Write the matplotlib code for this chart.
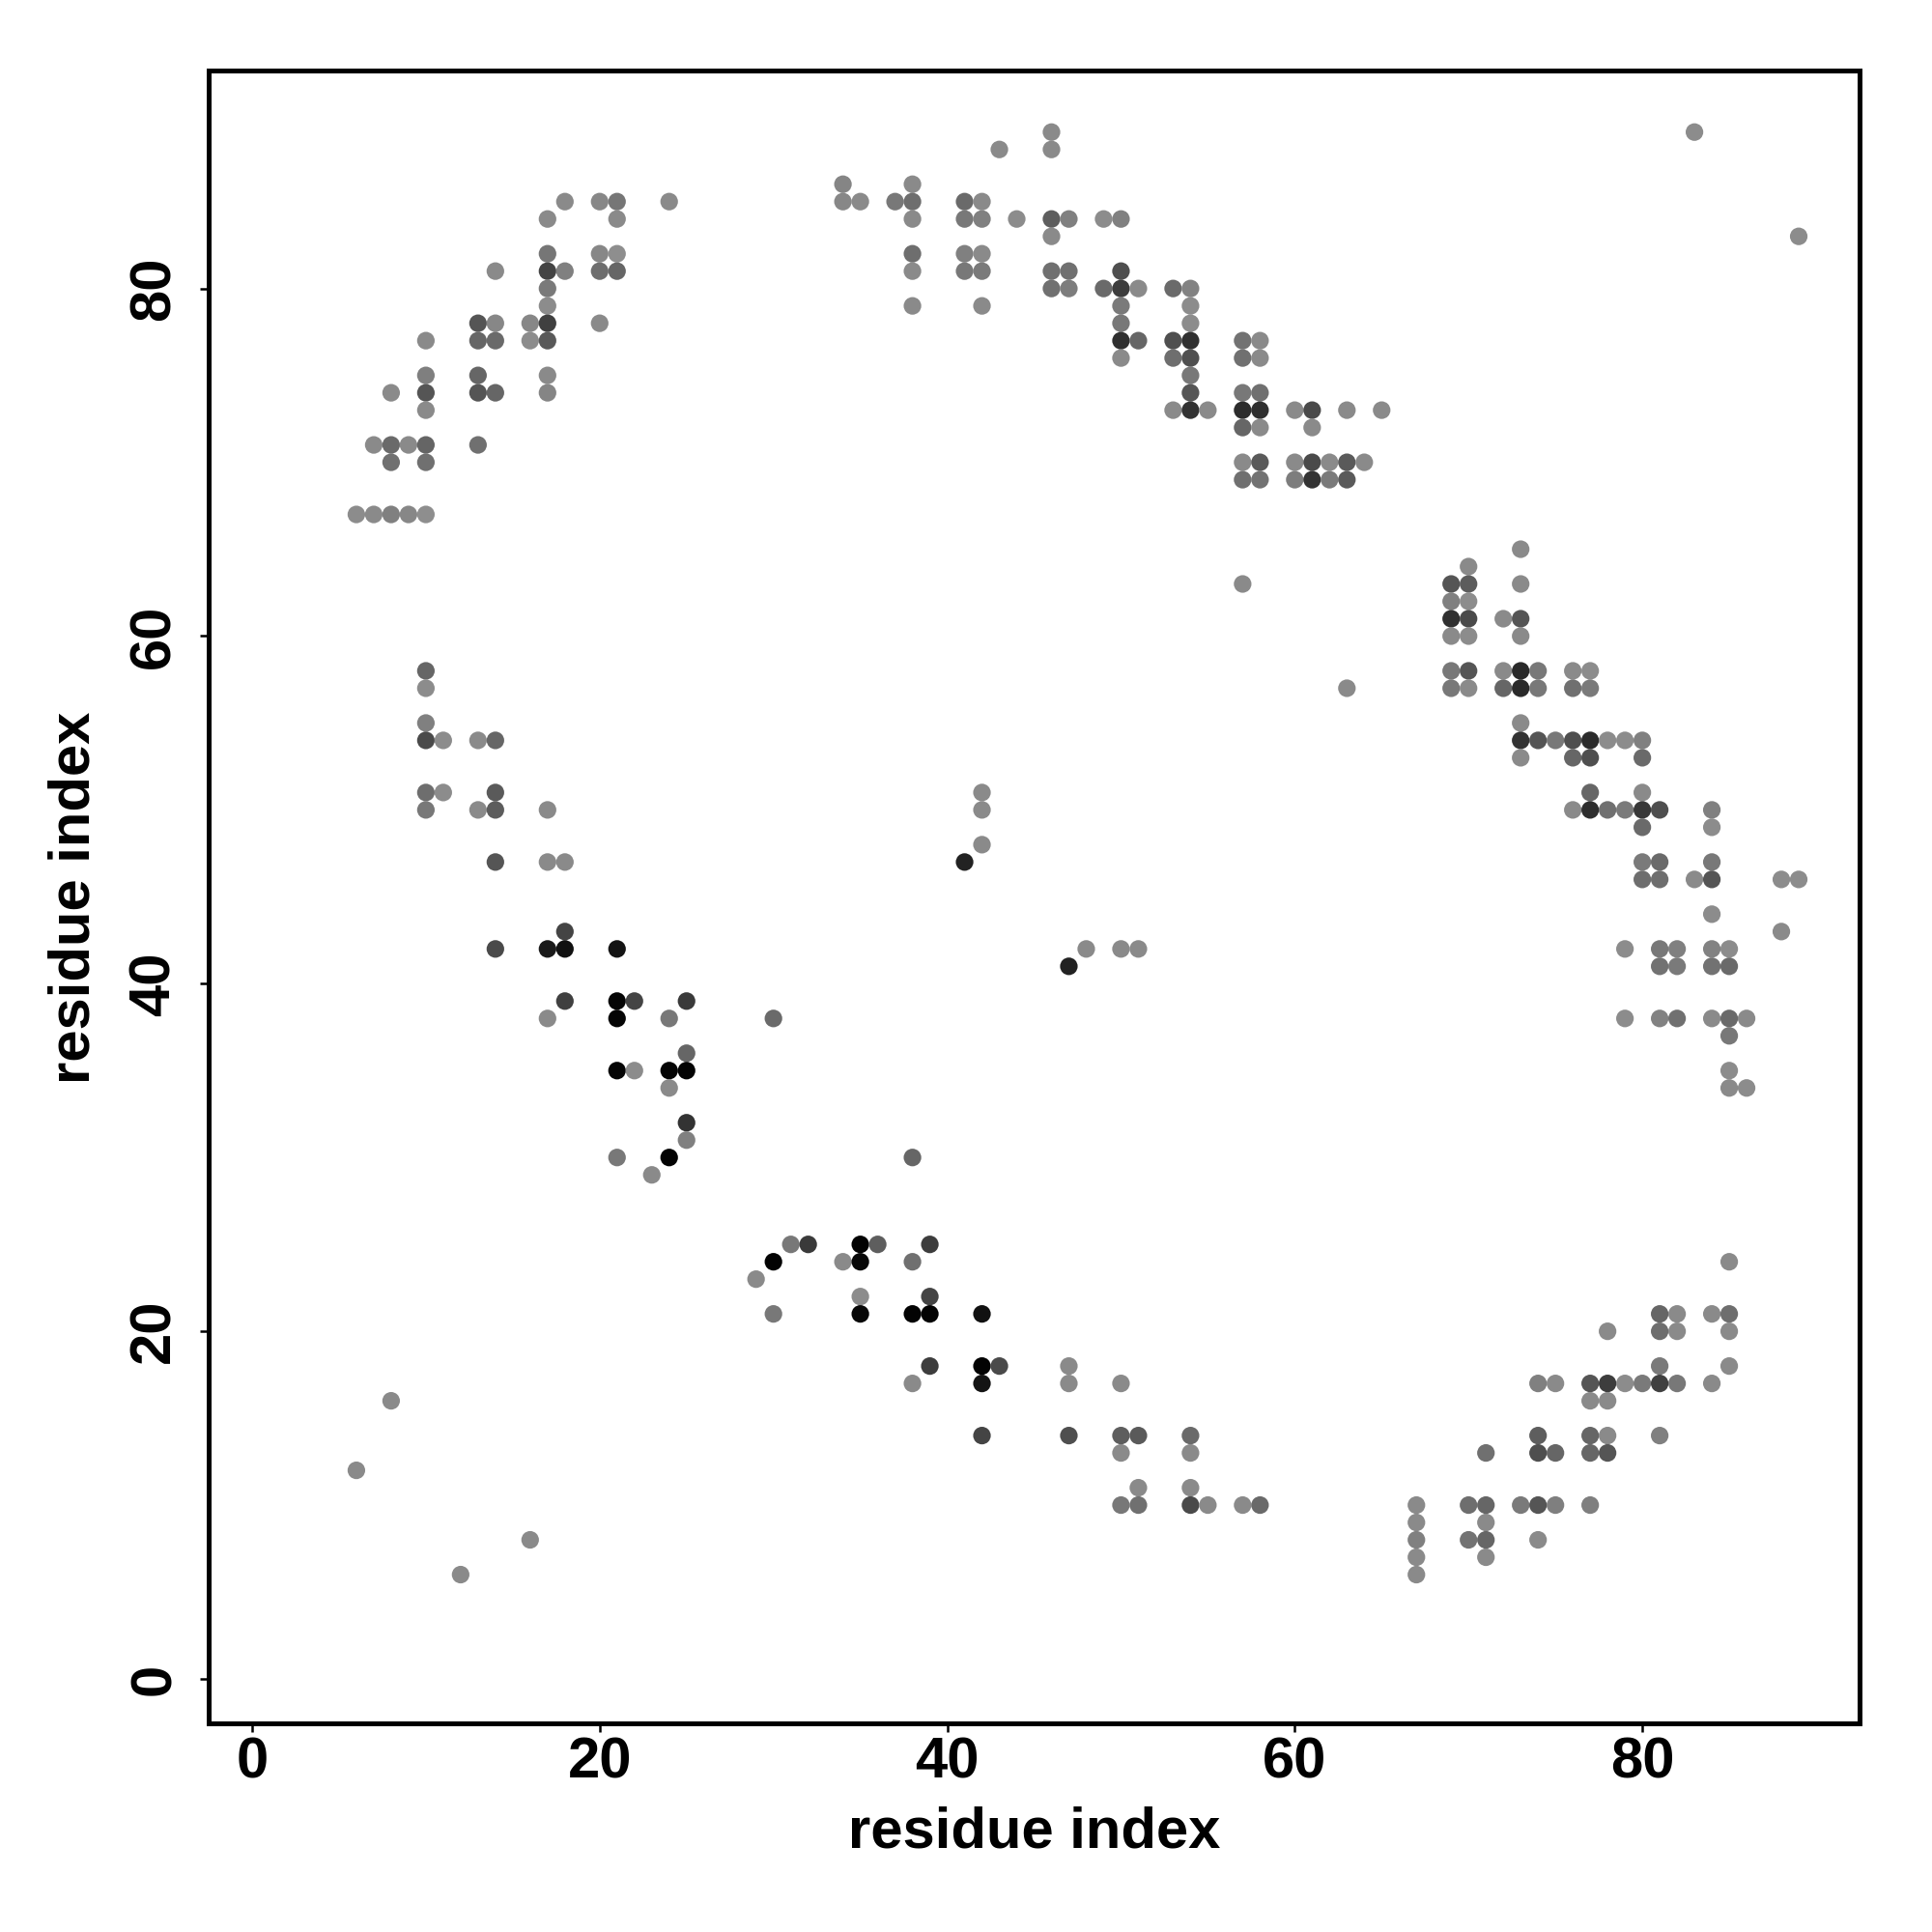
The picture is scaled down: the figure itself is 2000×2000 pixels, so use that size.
import matplotlib
matplotlib.use("Agg")
import matplotlib.pyplot as plt
import numpy as np

# contact points: (residue i, residue j, grey level 0..255)
upper_left = [
    (18, 85, 138), (20, 85, 135), (21, 85, 118), (24, 85, 138),
    (17, 84, 138), (21, 84, 138),
    (17, 82, 118), (20, 82, 135), (21, 82, 142),
    (14, 81, 138), (17, 81, 68), (18, 81, 128), (20, 81, 110), (21, 81, 102),
    (17, 80, 122), (17, 79, 140),
    (13, 78, 85), (14, 78, 135), (16, 78, 135), (17, 78, 64), (20, 78, 138),
    (10, 77, 138), (13, 77, 102), (14, 77, 106), (16, 77, 140), (17, 77, 89),
    (10, 75, 127), (13, 75, 102), (17, 75, 138),
    (8, 74, 138), (10, 74, 85), (13, 74, 85), (14, 74, 102), (17, 74, 133),
    (10, 73, 138),
    (7, 71, 138), (8, 71, 106), (9, 71, 138), (10, 71, 101), (13, 71, 112),
    (8, 70, 112), (10, 70, 112),
    (6, 67, 140), (7, 67, 138), (8, 67, 128), (9, 67, 135), (10, 67, 142),
]

upper_mid = [
    (46, 89, 138), (43, 88, 138), (46, 88, 138),
    (34, 86, 133), (38, 86, 138),
    (34, 85, 135), (35, 85, 138), (37, 85, 120), (38, 85, 110), (41, 85, 106),
    (42, 85, 138),
    (38, 84, 138), (41, 84, 120), (42, 84, 128), (44, 84, 140), (46, 84, 94),
    (47, 84, 128), (49, 84, 140), (50, 84, 128),
    (46, 83, 138),
    (38, 82, 110), (41, 82, 128), (42, 82, 138),
    (38, 81, 138), (41, 81, 120), (42, 81, 122), (46, 81, 112), (47, 81, 112),
    (50, 81, 79),
    (46, 80, 112), (47, 80, 125), (49, 80, 106), (50, 80, 61), (51, 80, 138),
    (53, 80, 106), (54, 80, 130),
    (38, 79, 138), (42, 79, 138),
    (50, 79, 122), (54, 79, 140), (50, 78, 120), (54, 78, 140),
    (50, 77, 47), (51, 77, 102), (53, 77, 79), (54, 77, 48), (57, 77, 114),
    (58, 77, 138),
    (50, 76, 138), (53, 76, 110), (54, 76, 80), (57, 76, 112), (58, 76, 138),
    (54, 75, 120),
    (54, 74, 85), (57, 74, 120), (58, 74, 112),
    (53, 73, 138), (54, 73, 51), (55, 73, 138), (57, 73, 44), (58, 73, 48),
    (60, 73, 138),
    (57, 72, 102), (58, 72, 138),
    (57, 70, 138), (58, 70, 90), (60, 70, 138),
    (57, 69, 112), (58, 69, 114), (60, 69, 125),
    (57, 63, 138),
]

upper_right = [
    (83, 89, 140), (89, 83, 140),
    (61, 73, 74), (63, 73, 138), (65, 73, 138), (61, 72, 138),
    (61, 70, 74), (62, 70, 138), (63, 70, 90), (64, 70, 138),
    (61, 69, 51), (62, 69, 122), (63, 69, 90),
    (73, 65, 138), (70, 64, 138), (69, 63, 85), (70, 63, 92), (73, 63, 138),
    (69, 62, 128), (70, 62, 140),
    (69, 61, 48), (70, 61, 74), (72, 61, 138), (73, 61, 85),
]

right_mid = [
    (69, 60, 138), (70, 60, 140), (73, 60, 138),
    (63, 57, 138),
    (69, 58, 120), (70, 58, 85), (72, 58, 138), (73, 58, 42), (74, 58, 120),
    (76, 58, 138), (77, 58, 140),
    (69, 57, 120), (70, 57, 138), (72, 57, 102), (73, 57, 42), (74, 57, 120),
    (76, 57, 112), (77, 57, 122),
    (73, 55, 138),
    (73, 54, 51), (74, 54, 85), (75, 54, 120), (76, 54, 79), (77, 54, 44),
    (78, 54, 140), (79, 54, 140), (80, 54, 128),
    (73, 53, 138), (76, 53, 102), (77, 53, 79), (80, 53, 106),
    (77, 51, 102), (80, 51, 138),
    (76, 50, 138), (77, 50, 46), (78, 50, 112), (79, 50, 122), (80, 50, 56),
    (81, 50, 79), (84, 50, 128),
    (80, 49, 106), (84, 49, 140),
    (80, 47, 122), (81, 47, 106), (84, 47, 120),
    (80, 46, 110), (81, 46, 110), (83, 46, 138), (84, 46, 85), (88, 46, 140),
    (89, 46, 140),
    (84, 44, 140), (88, 43, 138),
    (79, 42, 140), (81, 42, 120), (82, 42, 128), (84, 42, 130), (85, 42, 140),
    (81, 41, 114), (82, 41, 122), (84, 41, 114), (85, 41, 106),
    (79, 38, 140), (81, 38, 130), (82, 38, 112), (84, 38, 138), (85, 38, 106),
    (86, 38, 138),
    (85, 37, 120), (85, 35, 140), (85, 34, 138), (86, 34, 140),
]

left_mid = [
    (10, 58, 102), (10, 57, 140), (10, 55, 128), (10, 54, 74), (11, 54, 140),
    (13, 54, 138), (14, 54, 102),
    (10, 51, 110), (11, 51, 140), (14, 51, 90),
    (10, 50, 120), (13, 50, 138), (14, 50, 92), (17, 50, 138),
    (14, 47, 85), (17, 47, 138), (18, 47, 138),
    (18, 43, 68),
    (14, 42, 74), (17, 42, 26), (18, 42, 17), (21, 42, 20),
    (18, 39, 64), (21, 39, 5), (22, 39, 68), (25, 39, 58),
    (17, 38, 138), (21, 38, 5), (24, 38, 120),
    (25, 36, 102),
    (21, 35, 5), (22, 35, 140), (24, 35, 5), (25, 35, 3),
    (24, 34, 138),
    (25, 32, 51), (25, 31, 128),
    (21, 30, 120), (24, 30, 3),
    (23, 29, 138),
]

centre = [
    (42, 51, 138), (42, 50, 138), (42, 48, 138), (41, 47, 34),
    (48, 42, 138), (50, 42, 138), (51, 42, 138), (47, 41, 34),
    (30, 38, 106), (38, 30, 102),
]

lower_left = [
    (29, 23, 138), (8, 16, 138), (6, 12, 138), (16, 8, 138), (12, 6, 138),
]

lower_mid = [
    (31, 25, 120), (32, 25, 58), (30, 24, 3), (35, 25, 3), (36, 25, 94),
    (34, 24, 138), (35, 24, 8), (39, 25, 61), (38, 24, 112),
    (35, 22, 140), (39, 22, 68),
    (30, 21, 120), (35, 21, 8), (38, 21, 3), (39, 21, 3), (42, 21, 17),
    (39, 18, 61), (38, 17, 138), (42, 18, 3), (43, 18, 74), (42, 17, 20),
    (47, 18, 138), (47, 17, 138), (50, 17, 138),
    (42, 14, 68), (47, 14, 79), (50, 14, 94), (51, 14, 90), (54, 14, 106),
    (50, 13, 138), (54, 13, 138),
    (51, 11, 138), (54, 11, 138),
    (50, 10, 120), (51, 10, 112), (54, 10, 74), (55, 10, 138), (57, 10, 138),
    (58, 10, 106),
]

lower_right = [
    (85, 24, 138),
    (81, 21, 102), (82, 21, 138), (84, 21, 138), (85, 21, 110),
    (78, 20, 138), (81, 20, 110), (82, 20, 138), (85, 20, 138),
    (81, 18, 122), (85, 18, 138),
    (74, 17, 128), (75, 17, 138), (77, 17, 85), (78, 17, 61), (79, 17, 140),
    (80, 17, 122), (81, 17, 64), (82, 17, 120), (84, 17, 138),
    (77, 16, 138), (78, 16, 138),
    (81, 14, 128), (74, 14, 94), (77, 14, 102), (78, 14, 138),
    (71, 13, 112), (74, 13, 79), (75, 13, 102), (77, 13, 102), (78, 13, 85),
    (67, 10, 138), (70, 10, 110), (71, 10, 102), (73, 10, 122), (74, 10, 85),
    (75, 10, 127), (77, 10, 127),
    (67, 9, 138), (71, 9, 138),
    (67, 8, 128), (70, 8, 115), (71, 8, 102), (74, 8, 138),
    (67, 7, 138), (71, 7, 138), (67, 6, 138),
]

x_ticks = [0, 20, 40, 60, 80]
y_ticks = [0, 20, 40, 60, 80]
axis_label = "residue index"

plt.rcParams["font.family"] = ["Liberation Sans", "DejaVu Sans"]
plt.rcParams["font.weight"] = "bold"

clusters = [upper_left, upper_mid, upper_right, right_mid, left_mid,
            centre, lower_left, lower_mid, lower_right]
pts = np.array([p for c in clusters for p in c], dtype=float)
greys = pts[:, 2] / 255.0
colors = np.column_stack([greys, greys, greys])

fig = plt.figure(figsize=(10, 10), dpi=200)
ax = fig.add_axes([0.108, 0.1078, 0.8545, 0.8555])
ax.scatter(pts[:, 0], pts[:, 1], s=43, c=colors, linewidths=0, zorder=3)

ax.set_xlim(-2.5, 92.5)
ax.set_ylim(-2.58, 92.52)
ax.set_xticks(x_ticks)
ax.set_yticks(y_ticks)
for s in ax.spines.values():
    s.set_linewidth(1.8)
ax.tick_params(direction="out", length=3.2, width=0.9, labelsize=21.5,
               top=False, right=False)
ax.tick_params(axis="x", pad=1.5)
ax.tick_params(axis="y", pad=7)
for lab in ax.get_yticklabels():
    lab.set_rotation(90)
    lab.set_va("center")
ax.set_xlabel(axis_label, fontsize=21.5, fontweight="bold", labelpad=6)
ax.set_ylabel(axis_label, fontsize=21.5, fontweight="bold", labelpad=10)

fig.savefig("out.png", dpi=200, facecolor="white")
